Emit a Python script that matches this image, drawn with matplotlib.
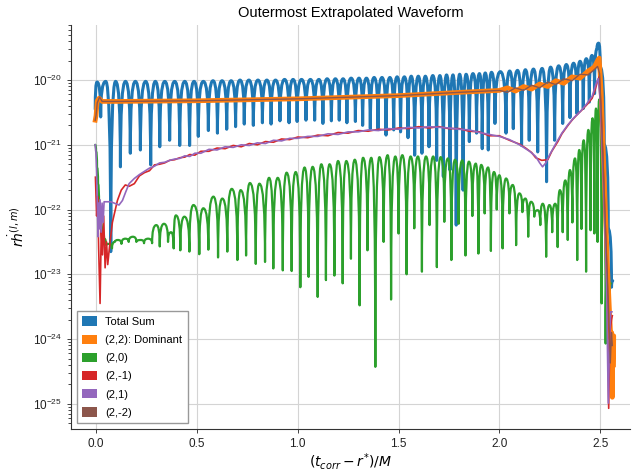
import numpy as np
import matplotlib
matplotlib.use("Agg")
import matplotlib.pyplot as plt
from matplotlib.patches import Patch, PathPatch
from matplotlib.path import Path

plt.rcParams['font.family'] = ['Liberation Sans', 'DejaVu Sans']

# waveform extrema: (t, log10 amplitude)
total_sum = [
    (-0.004, -20.45), (0.005, -20.03), (0.023, -20.57), (0.048, -20.02), (0.073, -22.65),
    (0.097, -20.02), (0.121, -21.34), (0.146, -20.02), (0.170, -21.13), (0.195, -20.02),
    (0.220, -21.08), (0.246, -20.02), (0.271, -21.31), (0.294, -20.02), (0.316, -21.03),
    (0.341, -20.02), (0.365, -20.93), (0.390, -20.02), (0.415, -21.01), (0.440, -20.02),
    (0.464, -21.01), (0.486, -20.02), (0.507, -20.87), (0.532, -20.02), (0.557, -20.78),
    (0.580, -20.01), (0.602, -20.82), (0.625, -20.01), (0.648, -20.76), (0.670, -20.01),
    (0.692, -20.72), (0.714, -20.00), (0.735, -20.68), (0.758, -20.00), (0.780, -20.70),
    (0.803, -20.00), (0.825, -20.66), (0.847, -20.00), (0.868, -20.68), (0.890, -20.00),
    (0.912, -20.63), (0.935, -19.99), (0.957, -20.66), (0.977, -19.99), (0.997, -20.64),
    (1.019, -19.99), (1.041, -20.62), (1.063, -19.99), (1.084, -20.62), (1.105, -19.99),
    (1.125, -20.67), (1.146, -19.98), (1.167, -20.63), (1.187, -19.98), (1.206, -20.62),
    (1.225, -19.98), (1.244, -20.66), (1.265, -19.97), (1.286, -20.64), (1.304, -19.97),
    (1.322, -20.70), (1.341, -19.97), (1.360, -20.75), (1.379, -19.96), (1.398, -20.75),
    (1.418, -19.96), (1.438, -20.85), (1.457, -19.96), (1.476, -20.77), (1.493, -19.95),
    (1.510, -20.80), (1.529, -19.95), (1.547, -20.89), (1.563, -19.94), (1.580, -21.16),
    (1.598, -19.94), (1.616, -21.13), (1.633, -19.94), (1.651, -21.03), (1.670, -19.93),
    (1.689, -21.24), (1.705, -19.93), (1.722, -21.49), (1.738, -19.92), (1.755, -21.39),
    (1.770, -19.92), (1.786, -22.24), (1.803, -19.91), (1.820, -21.70), (1.835, -19.91),
    (1.851, -20.95), (1.869, -19.90), (1.887, -20.82), (1.901, -19.90), (1.915, -21.06),
    (1.930, -19.89), (1.945, -21.08), (1.961, -19.88), (1.978, -20.67), (2.005, -19.87),
    (2.033, -20.82), (2.051, -19.86), (2.069, -20.75), (2.090, -19.85), (2.110, -21.01),
    (2.129, -19.84), (2.148, -20.93), (2.169, -19.83), (2.190, -21.11), (2.212, -19.82),
    (2.234, -21.57), (2.254, -19.80), (2.274, -20.93), (2.294, -19.78), (2.314, -20.67),
    (2.332, -19.76), (2.350, -20.58), (2.368, -19.74), (2.385, -20.52), (2.400, -19.71),
    (2.416, -20.44), (2.431, -19.67), (2.446, -20.34), (2.459, -19.62), (2.472, -20.21),
    (2.484, -19.52), (2.492, -19.43), (2.500, -19.80), (2.520, -21.00), (2.540, -22.30),
    (2.556, -23.20), (2.562, -23.10),
]

dominant_22 = [
    (-0.004, -20.62), (0.000, -20.55), (0.006, -20.32), (0.015, -20.28), (0.030, -20.33),
    (0.100, -20.33), (0.500, -20.32), (1.000, -20.29), (1.500, -20.24), (1.800, -20.19),
    (2.000, -20.16), (2.040, -20.12), (2.080, -20.17), (2.120, -20.10), (2.160, -20.14),
    (2.200, -20.06), (2.240, -20.10), (2.280, -20.01), (2.320, -20.05), (2.360, -19.95),
    (2.400, -19.97), (2.440, -19.86), (2.470, -19.80), (2.488, -19.69), (2.495, -19.66),
    (2.505, -20.20), (2.520, -21.50), (2.535, -22.80), (2.545, -23.50), (2.553, -24.00),
    (2.557, -23.90), (2.560, -24.90), (2.563, -24.00), (2.567, -23.95), (2.566, -24.40),
]

mode_20 = [
    (-0.004, -21.00), (0.000, -21.10), (0.005, -21.35), (0.010, -21.60), (0.015, -21.95),
    (0.022, -22.20), (0.030, -22.35), (0.040, -22.45), (0.050, -22.55), (0.063, -22.53),
    (0.079, -22.60), (0.093, -22.50), (0.109, -22.47), (0.126, -22.53), (0.145, -22.45),
    (0.162, -22.50), (0.183, -22.42), (0.200, -22.50), (0.222, -22.47), (0.238, -22.52),
    (0.258, -22.45), (0.278, -22.52), (0.299, -22.24), (0.316, -22.57), (0.337, -22.22),
    (0.357, -22.50), (0.372, -22.35), (0.385, -22.60), (0.396, -22.09), (0.418, -22.63),
    (0.438, -22.11), (0.463, -22.65), (0.483, -21.93), (0.512, -22.69), (0.532, -21.98),
    (0.557, -22.62), (0.582, -21.80), (0.605, -22.74), (0.626, -21.83), (0.651, -22.65),
    (0.673, -21.68), (0.701, -22.78), (0.717, -21.70), (0.744, -22.71), (0.763, -21.59),
    (0.792, -22.84), (0.810, -21.60), (0.838, -22.81), (0.858, -21.51), (0.879, -22.91),
    (0.901, -21.51), (0.926, -22.94), (0.945, -21.43), (0.970, -22.95), (0.990, -21.42),
    (1.013, -23.20), (1.034, -21.35), (1.054, -23.04), (1.074, -21.34), (1.099, -23.35),
    (1.117, -21.30), (1.140, -23.09), (1.158, -21.30), (1.182, -23.02), (1.200, -21.25),
    (1.223, -23.14), (1.241, -21.25), (1.264, -22.76), (1.283, -21.23), (1.307, -23.48),
    (1.324, -21.20), (1.346, -22.63), (1.365, -21.20), (1.385, -24.43), (1.405, -21.19),
    (1.426, -22.50), (1.446, -21.16), (1.463, -23.39), (1.484, -21.18), (1.500, -22.37),
    (1.519, -21.16), (1.540, -23.00), (1.560, -21.18), (1.578, -22.29), (1.596, -21.18),
    (1.616, -22.96), (1.636, -21.18), (1.654, -22.24), (1.672, -21.18), (1.690, -22.89),
    (1.709, -21.19), (1.727, -22.19), (1.745, -21.21), (1.762, -22.78), (1.780, -21.23),
    (1.798, -22.22), (1.816, -21.24), (1.832, -22.71), (1.849, -21.26), (1.866, -22.10),
    (1.883, -21.29), (1.896, -22.68), (1.910, -21.31), (1.927, -22.06), (1.944, -21.35),
    (1.958, -22.64), (1.973, -21.42), (1.987, -22.00), (2.000, -21.47), (2.016, -22.60),
    (2.033, -21.52), (2.050, -22.06), (2.066, -21.62), (2.083, -22.55), (2.099, -21.75),
    (2.114, -22.04), (2.129, -21.83), (2.143, -22.42), (2.157, -21.88), (2.173, -22.11),
    (2.190, -22.01), (2.203, -22.24), (2.215, -21.91), (2.232, -22.73), (2.248, -21.93),
    (2.262, -22.35), (2.277, -21.91), (2.289, -22.58), (2.300, -21.70), (2.314, -22.35),
    (2.327, -21.55), (2.339, -22.47), (2.350, -21.39), (2.362, -22.20), (2.375, -21.21),
    (2.386, -22.78), (2.396, -21.08), (2.407, -22.30), (2.418, -20.93), (2.430, -22.96),
    (2.441, -20.77), (2.452, -22.32), (2.462, -20.59), (2.471, -22.37), (2.479, -20.44),
    (2.487, -22.50), (2.495, -20.30), (2.507, -23.45), (2.515, -21.50), (2.527, -24.07),
    (2.535, -22.90), (2.545, -23.40), (2.553, -23.14),
]

mode_2m1 = [
    (-0.003, -21.50), (0.003, -22.10), (0.008, -21.80), (0.013, -22.60), (0.020, -23.45),
    (0.026, -22.30), (0.032, -22.70), (0.038, -22.10), (0.045, -22.90), (0.052, -22.50),
    (0.058, -22.85), (0.066, -22.60), (0.081, -22.20), (0.106, -21.86), (0.125, -21.70),
    (0.145, -21.62), (0.165, -21.64), (0.190, -21.60), (0.215, -21.48), (0.240, -21.43),
    (0.265, -21.40), (0.290, -21.31), (0.315, -21.30), (0.340, -21.28), (0.365, -21.24),
    (0.390, -21.23), (0.415, -21.20), (0.440, -21.19), (0.465, -21.15), (0.490, -21.16),
    (0.520, -21.10), (0.560, -21.10), (0.600, -21.05), (0.640, -21.06), (0.680, -21.01),
    (0.720, -21.03), (0.760, -20.98), (0.800, -21.00), (0.840, -20.95), (0.880, -20.96),
    (0.920, -20.91), (0.960, -20.92), (1.000, -20.88), (1.050, -20.89), (1.100, -20.85),
    (1.150, -20.86), (1.200, -20.81), (1.250, -20.82), (1.300, -20.78), (1.350, -20.79),
    (1.400, -20.76), (1.450, -20.77), (1.500, -20.74), (1.550, -20.75), (1.600, -20.72),
    (1.650, -20.74), (1.700, -20.72), (1.750, -20.75), (1.800, -20.75), (1.850, -20.79),
    (1.900, -20.80), (1.950, -20.86), (2.000, -20.86), (2.050, -20.93), (2.100, -20.99),
    (2.130, -21.05), (2.160, -21.12), (2.180, -21.20), (2.210, -21.24), (2.240, -21.23),
    (2.260, -21.10), (2.290, -20.95), (2.310, -20.83), (2.340, -20.70), (2.360, -20.62),
    (2.390, -20.52), (2.410, -20.46), (2.440, -20.36), (2.460, -20.28), (2.475, -20.15),
    (2.488, -20.00), (2.495, -19.95), (2.505, -20.50), (2.520, -21.80), (2.535, -23.20),
    (2.542, -25.07), (2.548, -23.90), (2.556, -23.70), (2.560, -23.64),
]

mode_21 = [
    (-0.004, -21.00), (0.000, -21.13), (0.003, -21.45), (0.006, -21.86), (0.010, -22.42),
    (0.013, -21.90), (0.016, -22.30), (0.020, -21.85), (0.025, -22.35), (0.030, -21.90),
    (0.035, -22.20), (0.040, -21.88), (0.049, -21.88), (0.073, -21.88), (0.098, -21.91),
    (0.114, -21.93), (0.131, -21.86), (0.147, -21.73), (0.164, -21.60), (0.190, -21.52),
    (0.215, -21.46), (0.240, -21.41), (0.265, -21.36), (0.290, -21.33), (0.315, -21.28),
    (0.340, -21.27), (0.365, -21.24), (0.390, -21.22), (0.415, -21.21), (0.440, -21.17),
    (0.465, -21.18), (0.490, -21.13), (0.520, -21.13), (0.560, -21.07), (0.600, -21.08),
    (0.640, -21.03), (0.680, -21.04), (0.720, -21.00), (0.760, -21.01), (0.800, -20.97),
    (0.840, -20.98), (0.880, -20.93), (0.920, -20.94), (0.960, -20.90), (1.000, -20.90),
    (1.050, -20.87), (1.100, -20.87), (1.150, -20.83), (1.200, -20.84), (1.250, -20.80),
    (1.300, -20.80), (1.350, -20.77), (1.400, -20.78), (1.450, -20.75), (1.500, -20.76),
    (1.550, -20.73), (1.600, -20.74), (1.650, -20.72), (1.700, -20.73), (1.750, -20.74),
    (1.800, -20.76), (1.850, -20.77), (1.900, -20.81), (1.950, -20.84), (2.000, -20.87),
    (2.050, -20.92), (2.100, -21.00), (2.150, -21.10), (2.180, -21.18), (2.200, -21.28),
    (2.214, -21.34), (2.230, -21.28), (2.250, -21.15), (2.280, -20.98), (2.310, -20.82),
    (2.340, -20.69), (2.370, -20.58), (2.400, -20.49), (2.430, -20.38), (2.460, -20.25),
    (2.480, -20.05), (2.490, -19.98), (2.500, -20.30), (2.515, -21.50), (2.530, -22.90),
    (2.540, -24.99), (2.546, -24.00), (2.552, -23.58), (2.558, -23.58),
]

mode_2m2 = [
    (-0.004, -20.62), (0.000, -20.55), (0.006, -20.35), (0.018, -20.26), (0.030, -20.33),
    (0.100, -20.33), (0.500, -20.32), (1.000, -20.29), (1.500, -20.24), (1.800, -20.19),
    (2.000, -20.16), (2.040, -20.19), (2.080, -20.12), (2.120, -20.16), (2.160, -20.08),
    (2.200, -20.12), (2.240, -20.03), (2.280, -20.07), (2.320, -19.98), (2.360, -20.01),
    (2.400, -19.91), (2.440, -19.92), (2.470, -19.84), (2.487, -19.79), (2.497, -19.90),
    (2.510, -20.90), (2.525, -22.20), (2.540, -23.40), (2.550, -24.37), (2.556, -23.90),
    (2.560, -24.10),
]

labels = ["Total Sum", "(2,2): Dominant", "(2,0)", "(2,-1)", "(2,1)", "(2,-2)"]
colors = ["#1f77b4", "#ff7f0e", "#2ca02c", "#d62728", "#9467bd", "#8c564b"]
series = [total_sum, dominant_22, mode_20, mode_2m1, mode_21, mode_2m2]
widths = [2.2, 3.4, 1.6, 1.2, 1.2, 1.0]
arched = [True, False, True, False, False, False]


def arch_path(data):
    # quadratic bezier between extrema: flat at the peaks, cusp at the troughs
    t, lg = np.array(data).T
    y = 10.0 ** lg
    verts = [(t[0], y[0])]
    codes = [Path.MOVETO]
    for i in range(1, len(t)):
        lo, hi = (i - 1, i) if y[i - 1] < y[i] else (i, i - 1)
        verts += [(t[lo], y[hi]), (t[i], y[i])]
        codes += [Path.CURVE3, Path.CURVE3]
    return Path(verts, codes)


fig = plt.figure(figsize=(6.37, 4.75), dpi=100)
ax = fig.add_axes([0.1115, 0.0968, 0.8776, 0.8505])
ax.set_yscale('log')
ax.set_xlim(-0.124, 2.648)
ax.set_ylim(10 ** -25.39, 10 ** -19.15)

for data, c, lw, arc in zip(series, colors, widths, arched):
    if arc:
        ax.add_patch(PathPatch(arch_path(data), fill=False, edgecolor=c, lw=lw,
                               joinstyle='round', capstyle='round'))
    else:
        t, lg = np.array(data).T
        ax.plot(t, 10.0 ** lg, color=c, lw=lw, solid_joinstyle='round')

ax.set_xticks([0.0, 0.5, 1.0, 1.5, 2.0, 2.5])
ax.set_yticks([1e-25, 1e-24, 1e-23, 1e-22, 1e-21, 1e-20])
ax.grid(True, which='major', color='#d4d4d4', lw=0.8)
ax.set_axisbelow(True)
for s in ['top', 'right']:
    ax.spines[s].set_visible(False)
for s in ['left', 'bottom']:
    ax.spines[s].set_color('#333333')
    ax.spines[s].set_linewidth(0.8)
ax.tick_params(axis='both', labelsize=8.5, colors='#222222', width=0.6, length=3)
ax.tick_params(axis='y', which='minor', width=0.5, length=2)

ax.set_title("Outermost Extrapolated Waveform", fontsize=10.5)
ax.set_xlabel(r"$(t_{corr} - r^{*})/M$", fontsize=10, labelpad=1)
ax.set_ylabel(r"$r\dot{h}^{(l,m)}$", fontsize=10)

handles = [Patch(facecolor=c, edgecolor='none') for c in colors]
ax.legend(handles, labels, loc='lower left', fontsize=8, fancybox=False,
          edgecolor='#999999', framealpha=1, handlelength=1.3, handleheight=0.9,
          borderaxespad=0.5, labelspacing=0.7, borderpad=0.5)

fig.savefig("out.png", dpi=100)
